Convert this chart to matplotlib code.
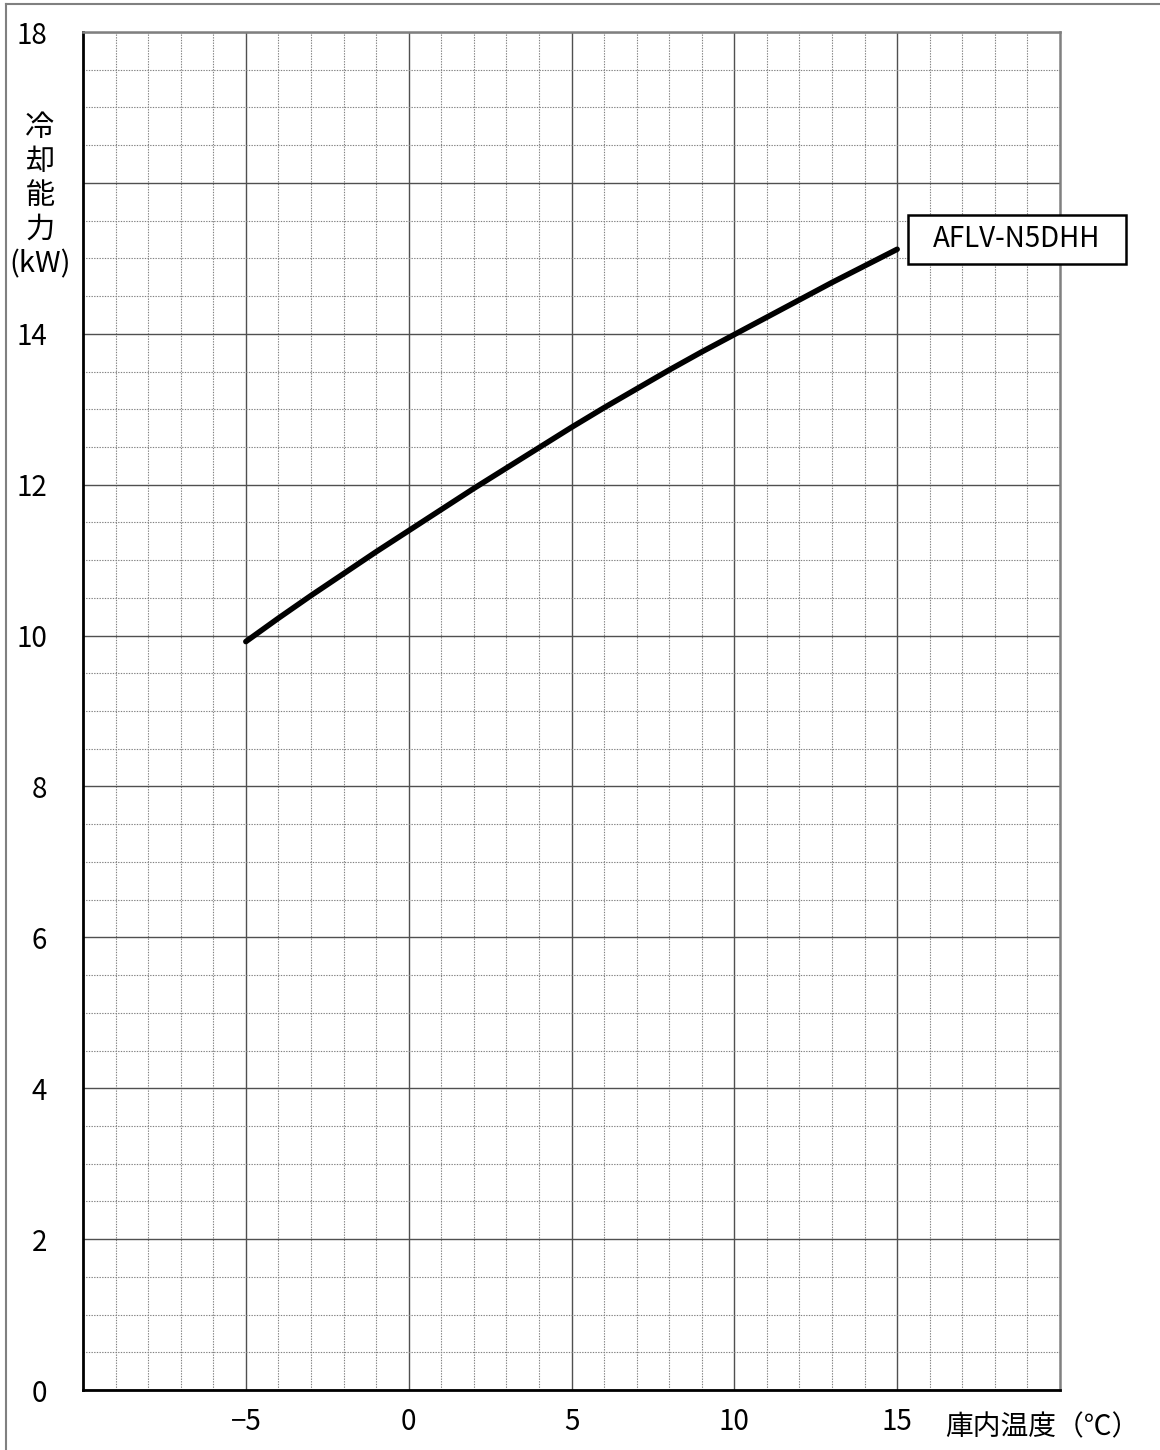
import matplotlib.pyplot as plt
from matplotlib.lines import Line2D
from matplotlib.patches import Rectangle
from matplotlib.ticker import MultipleLocator

plt.rcParams['font.family'] = ['Noto Sans CJK JP', 'DejaVu Sans']

# 庫内温度 (°C) と冷却能力 (kW)
temp = [-5, -4, -3, -2, -1, 0, 1, 2, 3, 4, 5, 6, 7, 8, 9, 10, 11, 12, 13, 14, 15]
capacity = [9.92, 10.23, 10.53, 10.82, 11.11, 11.39, 11.67, 11.95, 12.22, 12.49,
            12.76, 13.02, 13.27, 13.52, 13.76, 13.99, 14.22, 14.45, 14.68, 14.90, 15.12]
model = "AFLV-N5DHH"

x_ticks = [-5, 0, 5, 10, 15]
y_ticks = [0, 2, 4, 6, 8, 10, 12, 14, 16, 18]
y_labels = ["0", "2", "4", "6", "8", "10", "12", "14", "", "18"]

fig = plt.figure(figsize=(11.6, 14.5), dpi=100)
ax = fig.add_axes([83 / 1160, 1 - 1390 / 1450, (1060 - 83) / 1160, (1390 - 32) / 1450])

ax.set_xlim(-10, 20)
ax.set_ylim(0, 18)

ax.xaxis.set_major_locator(MultipleLocator(5))
ax.xaxis.set_minor_locator(MultipleLocator(1))
ax.yaxis.set_major_locator(MultipleLocator(2))
ax.yaxis.set_minor_locator(MultipleLocator(0.5))

ax.grid(which='minor', color='#808080', linestyle=(0, (1.2, 1.2)), linewidth=0.8)
ax.grid(which='major', color='#505050', linestyle='-', linewidth=1.0)
ax.set_axisbelow(True)

ax.set_xticks(x_ticks)
ax.set_xticklabels(["−5", "0", "5", "10", "15"])
ax.set_yticks(y_ticks)
ax.set_yticklabels(y_labels)
ax.tick_params(which='both', length=0)
ax.tick_params(axis='x', pad=12, labelsize=20)
ax.tick_params(axis='y', pad=26, labelsize=20)

for side in ['left', 'bottom']:
    ax.spines[side].set_color('black')
    ax.spines[side].set_linewidth(2)
for side in ['top', 'right']:
    ax.spines[side].set_color('#808080')
    ax.spines[side].set_linewidth(1.8)

ax.plot(temp, capacity, color='black', linewidth=4, solid_capstyle='round')

# 機種名ラベル
bx = temp[-1] + 0.33
ax.add_patch(Rectangle((bx, capacity[-1] - 0.19), 6.7, 0.65, facecolor='white',
                       edgecolor='black', linewidth=1.8, clip_on=False, zorder=5))
ax.text(bx + 3.35, capacity[-1] + 0.135, model, ha='center', va='center',
        fontsize=20, zorder=6, clip_on=False)

# 縦軸ラベル
for i, ch in enumerate(["冷", "却", "能", "力", "(kW)"]):
    fig.text(40 / 1160, 1 - (128 + 34 * i) / 1450, ch, ha='center', va='center', fontsize=21)

# 横軸ラベル
fig.text(1042 / 1160, 1 - 1427 / 1450, "庫内温度（℃）", ha='center', va='center', fontsize=20)

# 外枠
fig.add_artist(Line2D([6 / 1160, 6 / 1160], [0, 1 - 4 / 1450], color='#808080', linewidth=1.5))
fig.add_artist(Line2D([6 / 1160, 1], [1 - 4 / 1450, 1 - 4 / 1450], color='#808080', linewidth=1.5))

fig.savefig("out.png", dpi=100)
